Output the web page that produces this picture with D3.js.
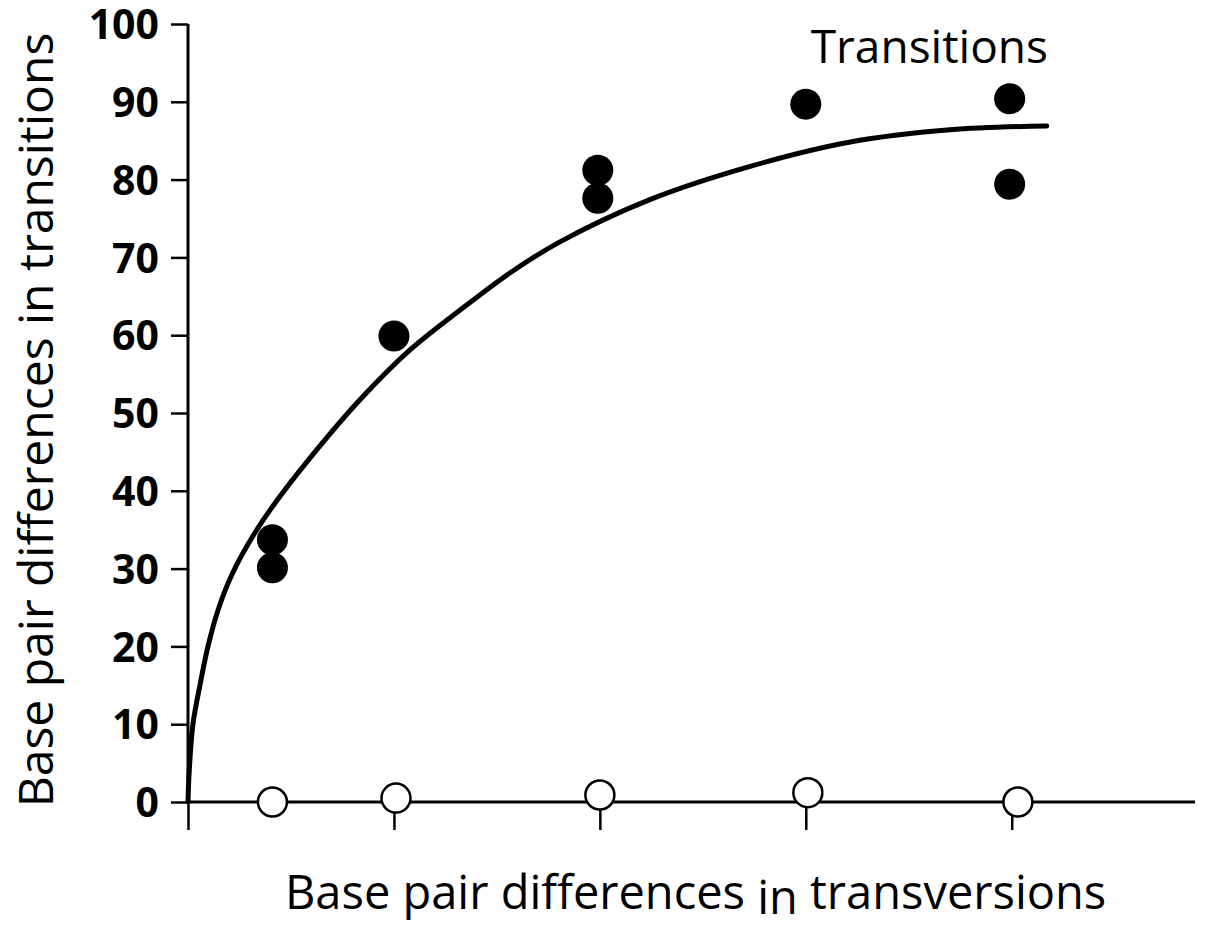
<!DOCTYPE html>
<html>
<head>
<meta charset="utf-8">
<script src="https://cdn.jsdelivr.net/npm/d3@7"></script>
<style>
  body { margin: 0; background: #fff; }
  svg text { font-family: "Open Sans", sans-serif; fill: #000; }
</style>
</head>
<body>
<svg id="canvas" width="1212" height="928"></svg>
<script>
// Values.

// transitions (filled dots)
let transX = [0.41, 0.41, 1.0, 1.99, 1.99, 3.0, 3.99, 3.99];
let transY = [33.7, 30.1, 59.9, 81.2, 77.6, 89.7, 90.4, 79.4];

// transversions (open dots)
let transvX = [0.41, 1.01, 2.0, 3.01, 4.03];
let transvY = [0, 0.5, 0.9, 1.2, 0];

// hand drawn saturation curve
let curveX = [0, 0.006, 0.024, 0.058, 0.097, 0.15, 0.218, 0.325, 0.422, 0.592, 0.835, 1.078, 1.32, 1.563, 1.806, 2.24, 2.73, 3.21, 3.70, 4.17];
let curveY = [0, 4, 10, 15, 20, 25, 29.5, 34.6, 38.4, 44.2, 51.7, 58.1, 63.2, 68.0, 72.0, 77.4, 81.7, 84.8, 86.4, 86.9];

let yTicks = [0, 10, 20, 30, 40, 50, 60, 70, 80, 90, 100];
let xTicks = [0, 1, 2, 3, 4];

let curveLabel = "Transitions";
let yTitle = "Base pair differences in transitions";
let xTitle = ["Base pair differences ", "in", " transversions"];

// Scales

let canvas = d3.select("#canvas");

let x = d3.scaleLinear().domain([0, 4.89]).range([188, 1195]);
let y = d3.scaleLinear().domain([0, 100]).range([802, 24]);

// Axes

let yAxis = canvas
  .append("g")
  .attr("transform", "translate(" + x(0) + ",0)")
  .call(d3.axisLeft(y).tickValues(yTicks).tickSize(17).tickPadding(12).tickSizeOuter(0));

yAxis.select(".domain").attr("stroke-width", 3).attr("d", "M0," + y(100) + "V" + y(0));
yAxis.selectAll(".tick line").attr("stroke-width", 2.5);
yAxis
  .selectAll(".tick text")
  .style("font-size", "41px")
  .style("font-weight", 700)
  .attr("dy", "0.36em");

let xAxis = canvas
  .append("g")
  .attr("transform", "translate(0," + y(0) + ")")
  .call(d3.axisBottom(x).tickValues(xTicks).tickSize(28).tickFormat("").tickSizeOuter(0));

xAxis.select(".domain").attr("stroke-width", 3).attr("d", "M" + x(0) + ",0H1195");
xAxis.selectAll(".tick line").attr("stroke-width", 2.5);

// Curve

let curvePts = curveX.map((d, i) => [d, curveY[i]]);

canvas
  .append("path")
  .datum(curvePts)
  .attr("fill", "none")
  .attr("stroke", "#000")
  .attr("stroke-width", 5)
  .attr("stroke-linecap", "round")
  .attr(
    "d",
    d3
      .line()
      .x((d) => x(d[0]))
      .y((d) => y(d[1]))
      .curve(d3.curveCatmullRom.alpha(0.5))
  );

// Points

canvas
  .selectAll("circle.trans")
  .data(transX)
  .enter()
  .append("circle")
  .attr("class", "trans")
  .attr("cx", (d) => x(d))
  .attr("cy", (d, i) => y(transY[i]))
  .attr("r", 15.5)
  .attr("fill", "#000");

canvas
  .selectAll("circle.transv")
  .data(transvX)
  .enter()
  .append("circle")
  .attr("class", "transv")
  .attr("cx", (d) => x(d))
  .attr("cy", (d, i) => y(transvY[i]))
  .attr("r", 14.5)
  .attr("fill", "#fff")
  .attr("stroke", "#000")
  .attr("stroke-width", 2.5);

// Labels

canvas
  .append("text")
  .attr("x", 1048)
  .attr("y", 63)
  .attr("text-anchor", "end")
  .style("font-size", "46px")
  .text(curveLabel);

canvas
  .append("text")
  .attr("transform", "translate(53,420) rotate(-90)")
  .attr("text-anchor", "middle")
  .style("font-size", "48px")
  .text(yTitle);

let xt = canvas
  .append("text")
  .attr("x", 285)
  .attr("y", 909)
  .style("font-size", "47px");

xt.append("tspan").text(xTitle[0]);
xt.append("tspan").attr("dy", 5).text(xTitle[1]);
xt.append("tspan").attr("dy", -5).text(xTitle[2]);
</script>
</body>
</html>
